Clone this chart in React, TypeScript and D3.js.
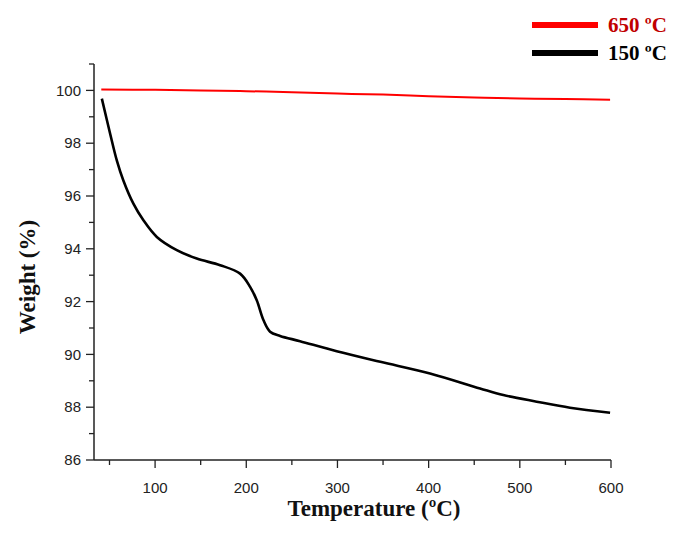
import React from "react";
import * as d3 from "d3";

const blackTemps = [41.6, 50.7, 58.0, 65.2, 76.2, 87.2, 101.9, 123.8, 145.7, 171.3, 193.2, 204.2, 211.5, 218.8, 226.1, 237.1, 259.0, 299.2, 347.0, 401.5, 456.4, 481.9, 518.5, 555.0, 599.0];
const blackWeights = [99.69, 98.36, 97.35, 96.59, 95.71, 95.08, 94.45, 93.95, 93.63, 93.38, 93.06, 92.56, 92.05, 91.3, 90.86, 90.7, 90.5, 90.12, 89.72, 89.28, 88.71, 88.46, 88.21, 87.98, 87.79];

const redTemps = [41, 100, 150, 200, 250, 300, 350, 400, 450, 500, 550, 599];
const redWeights = [100.03, 100.02, 100.0, 99.97, 99.93, 99.88, 99.84, 99.78, 99.73, 99.69, 99.67, 99.65];

const xMajorTicks = [100, 200, 300, 400, 500, 600];
const xMinorTicks = [50, 150, 250, 350, 450, 550];
const yMajorTicks = [86, 88, 90, 92, 94, 96, 98, 100];
const yMinorTicks = [87, 89, 91, 93, 95, 97, 99, 101];

const seriesLabels = ["650 ºC", "150 ºC"];

export default function App() {
  const left = 94, right = 611, top = 64, bottom = 460;
  const x = d3.scaleLinear().domain([33, 600]).range([left, right]);
  const y = d3.scaleLinear().domain([86, 101]).range([bottom, top]);

  const line = d3
    .line<[number, number]>()
    .x((d) => x(d[0]))
    .y((d) => y(d[1]))
    .curve(d3.curveCatmullRom.alpha(0.5));

  const black = blackTemps.map((t, i) => [t, blackWeights[i]] as [number, number]);
  const red = redTemps.map((t, i) => [t, redWeights[i]] as [number, number]);

  const tickFont = "'Liberation Sans', Arial, sans-serif";
  const serif = "'Liberation Serif', 'Times New Roman', serif";

  return (
    <svg width={685} height={535} style={{ position: "absolute", left: 0, top: 0, background: "#fff" }}>
      <rect width={685} height={535} fill="#fff" />
      <line x1={left} x2={left} y1={top} y2={bottom} stroke="#222" strokeWidth={1.5} />
      <line x1={left} x2={right} y1={bottom} y2={bottom} stroke="#222" strokeWidth={1.5} />
      {yMajorTicks.map((v) => (
        <g key={"ym" + v}>
          <line x1={left - 8} x2={left} y1={y(v)} y2={y(v)} stroke="#222" strokeWidth={1.3} />
          <text x={left - 13} y={y(v)} dy="0.35em" textAnchor="end" fontFamily={tickFont} fontSize={15} fill="#222">
            {v}
          </text>
        </g>
      ))}
      {yMinorTicks.map((v) => (
        <line key={"yn" + v} x1={left - 5} x2={left} y1={y(v)} y2={y(v)} stroke="#222" strokeWidth={1.3} />
      ))}
      {xMajorTicks.map((v) => (
        <g key={"xm" + v}>
          <line x1={x(v)} x2={x(v)} y1={bottom} y2={bottom + 8} stroke="#222" strokeWidth={1.3} />
          <text x={x(v)} y={bottom + 33} textAnchor="middle" fontFamily={tickFont} fontSize={15} fill="#222">
            {v}
          </text>
        </g>
      ))}
      {xMinorTicks.map((v) => (
        <line key={"xn" + v} x1={x(v)} x2={x(v)} y1={bottom} y2={bottom + 5} stroke="#222" strokeWidth={1.3} />
      ))}

      <path d={line(red) || ""} fill="none" stroke="#ff0000" strokeWidth={2} />
      <path d={line(black) || ""} fill="none" stroke="#000" strokeWidth={2.6} />

      <text x={374} y={516} textAnchor="middle" fontFamily={serif} fontWeight="bold" fontSize={23} fill="#111">
        Temperature (ºC)
      </text>
      <text
        transform="translate(35,277) rotate(-90)"
        textAnchor="middle"
        fontFamily={serif}
        fontWeight="bold"
        fontSize={23}
        fill="#111"
      >
        Weight (%)
      </text>

      <line x1={532} x2={598} y1={25} y2={25} stroke="#ff0000" strokeWidth={6} />
      <text x={608} y={32} fontFamily={serif} fontWeight="bold" fontSize={21} fill="#c00000">
        {seriesLabels[0]}
      </text>
      <line x1={532} x2={598} y1={53} y2={53} stroke="#000" strokeWidth={6} />
      <text x={608} y={60} fontFamily={serif} fontWeight="bold" fontSize={21} fill="#000">
        {seriesLabels[1]}
      </text>
    </svg>
  );
}
